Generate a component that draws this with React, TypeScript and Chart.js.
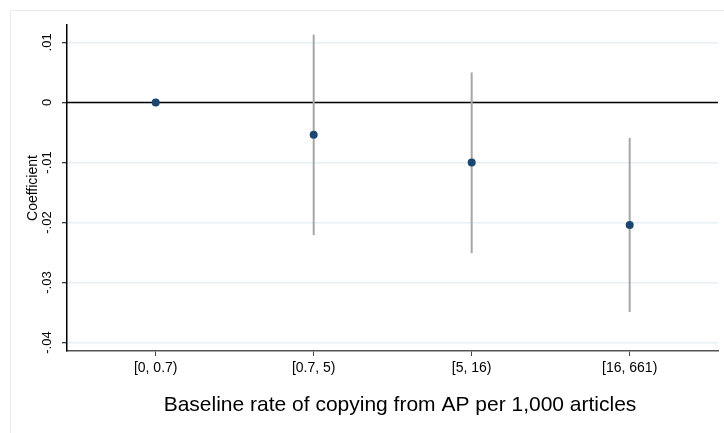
import React, { useEffect, useRef } from "react";
import { Chart, registerables } from "chart.js";

Chart.register(...registerables);

// ---- Data ----
const categories = ["[0, 0.7)", "[0.7, 5)", "[5, 16)", "[16, 661)"];
const categoryX = [1, 2, 3, 4];
const coefficients = [0, -0.0054, -0.01, -0.0204];
const ciLower = [0, -0.0221, -0.0251, -0.0349];
const ciUpper = [0, 0.0113, 0.005, -0.0059];
const yTickValues = [0.01, 0, -0.01, -0.02, -0.03, -0.04];
const yTickLabels = [".01", "0", "-.01", "-.02", "-.03", "-.04"];
const xTitle = "Baseline rate of copying from AP per 1,000 articles";
const yTitle = "Coefficient";

const FONT = "'Liberation Sans', Arial, Helvetica, sans-serif";

const decorPlugin = {
  id: "decor",
  beforeDraw(chart: any) {
    const ctx = chart.ctx;
    ctx.save();
    ctx.fillStyle = "#ffffff";
    ctx.fillRect(0, 0, chart.width, chart.height);
    ctx.strokeStyle = "#e6edf1";
    ctx.lineWidth = 1;
    ctx.strokeRect(10.5, 10.5, chart.width + 50, chart.height + 50);
    ctx.restore();
  },
  beforeDatasetsDraw(chart: any) {
    const ctx = chart.ctx;
    const y = chart.scales.y.getPixelForValue(0);
    const { left, right } = chart.chartArea;
    ctx.save();
    ctx.strokeStyle = "#000000";
    ctx.lineWidth = 1.5;
    ctx.beginPath();
    ctx.moveTo(left, y);
    ctx.lineTo(right, y);
    ctx.stroke();
    ctx.restore();
  },
  afterDraw(chart: any) {
    const ctx = chart.ctx;
    const ys = chart.scales.y;
    ctx.save();
    ctx.fillStyle = "#000000";
    ctx.textAlign = "center";
    ctx.textBaseline = "middle";
    ctx.font = `13px ${FONT}`;
    yTickValues.forEach((v, i) => {
      const py = ys.getPixelForValue(v);
      ctx.save();
      ctx.translate(47, py);
      ctx.rotate(-Math.PI / 2);
      ctx.fillText(yTickLabels[i], 0, 0);
      ctx.restore();
    });
    // x-axis title, centred on the (wider) Stata plot region
    ctx.font = `21px ${FONT}`;
    ctx.fillText(xTitle, 400, 405);
    ctx.font = `14px ${FONT}`;
    const { top, bottom } = chart.chartArea;
    ctx.translate(33, (top + bottom) / 2);
    ctx.rotate(-Math.PI / 2);
    ctx.fillText(yTitle, 0, 0);
    ctx.restore();
  },
};

export default function App() {
  const ref = useRef<HTMLCanvasElement | null>(null);

  useEffect(() => {
    if (!ref.current) return;
    const errorSets = categoryX
      .map((x, i) => ({ x, i }))
      .filter(({ i }) => ciLower[i] !== ciUpper[i])
      .map(({ x, i }) => ({
        type: "scatter" as const,
        data: [
          { x, y: ciLower[i] },
          { x, y: ciUpper[i] },
        ],
        showLine: true,
        borderColor: "#a6a6a6",
        borderWidth: 2,
        pointRadius: 0,
        order: 2,
      }));

    const chart = new Chart(ref.current, {
      type: "scatter",
      data: {
        datasets: [
          ...errorSets,
          {
            type: "scatter",
            data: categoryX.map((x, i) => ({ x, y: coefficients[i] })),
            backgroundColor: "#1a476f",
            borderColor: "#1a476f",
            pointRadius: 4,
            pointBorderWidth: 0,
            order: 1,
          },
        ],
      } as any,
      options: {
        animation: false,
        responsive: false,
        devicePixelRatio: 1,
        layout: { padding: { top: 25, right: 6, left: 0, bottom: 0 } },
        plugins: {
          legend: { display: false },
          tooltip: { enabled: false },
        },
        scales: {
          x: {
            type: "linear",
            min: 0.4386,
            max: 4.559,
            afterFit: (s: any) => {
              s.height = 82;
            },
            afterBuildTicks: (s: any) => {
              s.ticks = categoryX.map((v) => ({ value: v }));
            },
            grid: {
              drawOnChartArea: false,
              drawTicks: true,
              tickLength: 5,
              tickColor: "#444444",
              tickWidth: 1,
            },
            border: { display: true, color: "#555555", width: 1.5 },
            ticks: {
              autoSkip: false,
              maxRotation: 0,
              padding: 4,
              color: "#000000",
              font: { family: FONT, size: 14 },
              callback: (v: any) => categories[categoryX.indexOf(Number(v))] ?? "",
            },
            title: { display: false },
          },
          y: {
            type: "linear",
            min: -0.0414,
            max: 0.0129,
            afterFit: (s: any) => {
              s.width = 67;
            },
            afterBuildTicks: (s: any) => {
              s.ticks = yTickValues.map((v) => ({ value: v }));
            },
            grid: {
              drawOnChartArea: true,
              color: "#e9f0f3",
              lineWidth: 1.5,
              drawTicks: true,
              tickLength: 5,
              tickColor: "#000000",
              tickWidth: 1,
            },
            border: { display: true, color: "#000000", width: 1.5 },
            ticks: { display: false },
          },
        },
      },
      plugins: [decorPlugin],
    });
    return () => chart.destroy();
  }, []);

  return (
    <div
      style={{
        position: "fixed",
        left: 0,
        top: 0,
        width: 724,
        height: 433,
        background: "#ffffff",
      }}
    >
      <canvas ref={ref} width={724} height={433} style={{ display: "block" }} />
    </div>
  );
}
